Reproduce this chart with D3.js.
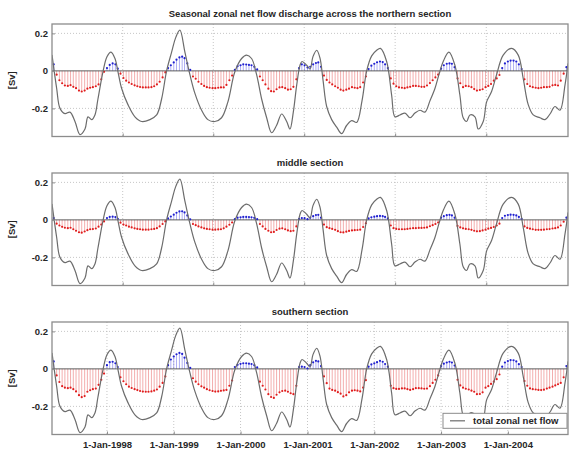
<!DOCTYPE html>
<html>
<head>
<meta charset="utf-8">
<script src="https://cdn.jsdelivr.net/npm/d3@7"></script>
<style>
  html, body { margin: 0; padding: 0; background: #fff; }
  svg { display: block; }
  text { font-family: "Liberation Sans", Arial, Helvetica, sans-serif; }
</style>
</head>
<body>
<svg id="chart" width="570" height="452"></svg>
<script>
// Total zonal net flow (Sv), sampled at decimal-year positions
const lineYears = [
  1997.177, 1997.247, 1997.297, 1997.372, 1997.446, 1997.521, 1997.596, 1997.671, 1997.716, 1997.771,
  1997.820, 1997.865, 1997.940, 1998.000, 1998.060, 1998.120, 1998.165, 1998.220, 1998.314, 1998.419,
  1998.519, 1998.643, 1998.744, 1998.818, 1998.893, 1998.968, 1999.032, 1999.092, 1999.167, 1999.242,
  1999.317, 1999.417, 1999.511, 1999.616, 1999.716, 1999.811, 1999.915, 2000.016, 2000.090, 2000.165,
  2000.240, 2000.315, 2000.390, 2000.464, 2000.539, 2000.614, 2000.689, 2000.738, 2000.788, 2000.839,
  2000.888, 2000.918, 2000.988, 2001.038, 2001.082, 2001.138, 2001.187, 2001.232, 2001.287, 2001.362,
  2001.437, 2001.512, 2001.587, 2001.662, 2001.736, 2001.816, 2001.886, 2001.961, 2002.036, 2002.092,
  2002.185, 2002.260, 2002.309, 2002.384, 2002.459, 2002.534, 2002.609, 2002.684, 2002.758, 2002.833,
  2002.908, 2002.968, 2003.032, 2003.117, 2003.207, 2003.282, 2003.331, 2003.382, 2003.432, 2003.507,
  2003.556, 2003.631, 2003.682, 2003.756, 2003.831, 2003.930, 2004.056, 2004.155, 2004.229, 2004.304,
  2004.379, 2004.479, 2004.554, 2004.629, 2004.703, 2004.778, 2004.853, 2004.898
];
const lineFlow = [
  0.085, -0.094, -0.20, -0.228, -0.22, -0.27, -0.34, -0.31, -0.245, -0.26,
  -0.235, -0.15, -0.005, 0.075, 0.10, 0.066, -0.005, -0.094, -0.18, -0.245,
  -0.27, -0.26, -0.235, -0.15, 0.0, 0.10, 0.18, 0.217, 0.10, -0.02,
  -0.12, -0.21, -0.26, -0.27, -0.25, -0.165, -0.005, 0.066, 0.084, 0.066,
  -0.02, -0.15, -0.25, -0.33, -0.29, -0.23, -0.27, -0.31, -0.22, -0.075,
  0.03, 0.05, 0.03, 0.01, 0.076, 0.11, 0.068, -0.048, -0.19, -0.26,
  -0.30, -0.335, -0.29, -0.265, -0.275, -0.16, 0.0, 0.08, 0.11, 0.12,
  0.05, -0.13, -0.245, -0.235, -0.225, -0.25, -0.225, -0.21, -0.22, -0.16,
  -0.094, -0.02, 0.05, 0.10, 0.03, -0.13, -0.25, -0.27, -0.235, -0.245,
  -0.31, -0.27, -0.165, -0.11, -0.02, 0.084, 0.12, 0.084, -0.04, -0.18,
  -0.235, -0.25, -0.26, -0.23, -0.19, -0.21, -0.076, 0.04
];

// Seasonal discharge per section, half-monthly samples (1st and 16th) from 16 Mar 1997
const stemStart = "1997-03-16";
const stemNorth = [
  0.035, -0.02, -0.05, -0.066, -0.078, -0.08, -0.076, -0.085, -0.092, -0.105,
  -0.11, -0.105, -0.095, -0.09, -0.087, -0.082, -0.072, -0.045, -0.005, 0.015,
  0.032, 0.04, 0.035, 0.012, -0.015, -0.038, -0.052, -0.062, -0.07, -0.077,
  -0.082, -0.086, -0.088, -0.088, -0.088, -0.087, -0.082, -0.072, -0.058, -0.035,
  -0.008, 0.015, 0.03, 0.045, 0.06, 0.072, 0.076, 0.068, 0.04, 0.005,
  -0.03, -0.042, -0.058, -0.07, -0.08, -0.087, -0.09, -0.092, -0.092, -0.09,
  -0.088, -0.088, -0.075, -0.05, -0.025, 0.005, 0.025, 0.03, 0.035, 0.034,
  0.032, 0.03, 0.022, 0.008, -0.03, -0.05, -0.072, -0.095, -0.108, -0.11,
  -0.098, -0.088, -0.087, -0.092, -0.1, -0.098, -0.085, -0.045, 0.015, 0.035,
  0.03, 0.018, 0.022, 0.035, 0.042, 0.045, 0.022, -0.025, -0.048, -0.062,
  -0.072, -0.082, -0.09, -0.1, -0.105, -0.1, -0.095, -0.087, -0.09, -0.092,
  -0.087, -0.062, -0.03, 0.01, 0.028, 0.038, 0.046, 0.05, 0.047, 0.035,
  0.015, -0.04, -0.068, -0.082, -0.088, -0.09, -0.092, -0.088, -0.085, -0.08,
  -0.08, -0.082, -0.085, -0.085, -0.078, -0.065, -0.05, -0.035, -0.02, 0.012,
  0.03, 0.038, 0.04, 0.038, 0.02, -0.04, -0.066, -0.087, -0.08, -0.082,
  -0.087, -0.097, -0.105, -0.102, -0.098, -0.087, -0.08, -0.07, -0.052, -0.04,
  -0.022, 0.015, 0.04, 0.05, 0.055, 0.055, 0.05, 0.035, 0.01, -0.045,
  -0.07, -0.082, -0.087, -0.09, -0.092, -0.09, -0.087, -0.087, -0.085, -0.077,
  -0.075, -0.078, -0.052, -0.015, 0.02
];
const stemMiddle = [
  0.01, -0.02, -0.03, -0.037, -0.042, -0.044, -0.042, -0.05, -0.058, -0.066,
  -0.068, -0.062, -0.055, -0.05, -0.049, -0.046, -0.036, -0.025, -0.008, 0.01,
  0.016, 0.017, 0.015, 0.006, -0.015, -0.025, -0.03, -0.036, -0.04, -0.045,
  -0.048, -0.05, -0.052, -0.052, -0.052, -0.05, -0.048, -0.044, -0.035, -0.022,
  -0.008, 0.008, 0.018, 0.028, 0.038, 0.045, 0.046, 0.04, 0.024, 0.003,
  -0.022, -0.028, -0.035, -0.04, -0.045, -0.048, -0.05, -0.052, -0.052, -0.051,
  -0.05, -0.045, -0.036, -0.026, -0.014, 0.004, 0.012, 0.014, 0.016, 0.016,
  0.015, 0.014, 0.011, 0.004, -0.022, -0.035, -0.048, -0.058, -0.066, -0.064,
  -0.054, -0.047, -0.045, -0.05, -0.056, -0.06, -0.058, -0.035, 0.006, 0.01,
  0.009, 0.004, 0.012, 0.02, 0.026, 0.027, 0.012, -0.025, -0.039, -0.044,
  -0.048, -0.053, -0.06, -0.066, -0.067, -0.063, -0.059, -0.056, -0.055, -0.054,
  -0.052, -0.038, -0.018, 0.008, 0.014, 0.017, 0.02, 0.021, 0.02, 0.016,
  0.008, -0.03, -0.044, -0.048, -0.05, -0.05, -0.05, -0.048, -0.046, -0.044,
  -0.044, -0.043, -0.043, -0.042, -0.04, -0.034, -0.028, -0.022, -0.014, 0.012,
  0.02, 0.025, 0.027, 0.024, 0.012, -0.032, -0.04, -0.045, -0.048, -0.05,
  -0.053, -0.058, -0.061, -0.06, -0.056, -0.052, -0.047, -0.043, -0.038, -0.03,
  -0.02, 0.01, 0.022, 0.026, 0.028, 0.027, 0.024, 0.016, 0.005, -0.035,
  -0.043, -0.047, -0.05, -0.053, -0.053, -0.053, -0.052, -0.05, -0.049, -0.046,
  -0.044, -0.04, -0.03, -0.01, 0.012
];
const stemSouth = [
  0.04, -0.035, -0.07, -0.092, -0.1, -0.103, -0.1, -0.108, -0.12, -0.14,
  -0.151, -0.145, -0.122, -0.114, -0.108, -0.105, -0.085, -0.058, -0.025, 0.02,
  0.036, 0.038, 0.03, 0.01, -0.045, -0.066, -0.082, -0.095, -0.102, -0.108,
  -0.113, -0.118, -0.121, -0.122, -0.122, -0.12, -0.116, -0.11, -0.095, -0.075,
  -0.04, 0.02, 0.05, 0.066, 0.078, 0.085, 0.08, 0.06, 0.032, 0.005,
  -0.05, -0.068, -0.082, -0.093, -0.1, -0.108, -0.114, -0.118, -0.121, -0.12,
  -0.117, -0.115, -0.112, -0.09, -0.062, 0.01, 0.022, 0.027, 0.03, 0.03,
  0.028, 0.026, 0.02, 0.008, -0.068, -0.09, -0.11, -0.135, -0.15, -0.155,
  -0.138, -0.125, -0.118, -0.116, -0.122, -0.13, -0.135, -0.09, 0.01, 0.012,
  0.01, 0.002, 0.02, 0.035, 0.043, 0.04, 0.015, -0.04, -0.076, -0.105,
  -0.112, -0.116, -0.124, -0.132, -0.147, -0.14, -0.125, -0.116, -0.114, -0.116,
  -0.12, -0.1, -0.06, 0.012, 0.024, 0.03, 0.036, 0.043, 0.038, 0.026,
  0.012, -0.09, -0.103, -0.107, -0.107, -0.104, -0.104, -0.108, -0.112, -0.108,
  -0.103, -0.103, -0.104, -0.106, -0.105, -0.092, -0.075, -0.058, -0.035, 0.015,
  0.028, 0.034, 0.038, 0.034, 0.018, -0.058, -0.088, -0.1, -0.106, -0.11,
  -0.116, -0.122, -0.135, -0.134, -0.125, -0.1, -0.092, -0.08, -0.068, -0.055,
  -0.03, 0.012, 0.034, 0.042, 0.047, 0.046, 0.04, 0.025, 0.01, -0.065,
  -0.09, -0.104, -0.108, -0.11, -0.112, -0.113, -0.111, -0.105, -0.1, -0.095,
  -0.088, -0.082, -0.075, -0.045, 0.015
];

const panelTitles = [
  "Seasonal zonal net flow discharge across the northern section",
  "middle section",
  "southern section"
];
const yTicks = [0.2, 0, -0.2];
const yLabel = "[Sv]";
const yearTicks = ["1998-01-01", "1999-01-01", "2000-01-01", "2001-01-01", "2002-01-01", "2003-01-01", "2004-01-01"];
// unlabelled date grid used by the upper two sections
const gridDatesUpper = ["1998-03-28", "1999-08-05", "2000-12-14", "2002-04-25", "2003-09-05"];
const legendLabel = "total zonal net flow";
const timeRange = [1997.177, 2004.898];
const flowRange = [-0.35, 0.25];

// ---------------------------------------------------------------------------
const decYear = v => {
  const yr = Math.floor(v);
  const a = Date.UTC(yr, 0, 1), b = Date.UTC(yr + 1, 0, 1);
  return new Date(a + (v - yr) * (b - a));
};
const parse = d3.utcParse("%Y-%m-%d");

function halfMonthDates(start, n) {
  const out = [];
  let d = parse(start);
  while (out.length < n) {
    out.push(d);
    d = d.getUTCDate() === 1
      ? new Date(Date.UTC(d.getUTCFullYear(), d.getUTCMonth(), 16))
      : new Date(Date.UTC(d.getUTCFullYear(), d.getUTCMonth() + 1, 1));
  }
  return out;
}

const svg = d3.select("#chart");
const left = 52, right = 568, panelH = 112.5;
const panelTops = [24, 173, 322];

const x = d3.scaleTime().domain(timeRange.map(decYear)).range([left, right]);
const y = d3.scaleLinear().domain(flowRange).range([panelH, 0]);

const lineData = lineYears.map((t, i) => ({ date: decYear(t), v: lineFlow[i] }));
const series = [stemNorth, stemMiddle, stemSouth];

const fontSize = 9.5;
const textColor = "#262626";
const frameColor = "#8c8c8c";
const flowColor = "#6c6c6c";

svg.append("defs").append("clipPath").attr("id", "plotClip")
  .append("rect").attr("x", left).attr("y", 0).attr("width", right - left).attr("height", panelH);

const flowLine = d3.line()
  .x(d => x(d.date))
  .y(d => y(d.v))
  .curve(d3.curveCatmullRom.alpha(0.5));

series.forEach((vals, p) => {
  const g = svg.append("g").attr("transform", `translate(0,${panelTops[p]})`);
  const stemDates = halfMonthDates(stemStart, vals.length);
  const stems = vals.map((v, i) => ({ date: stemDates[i], v }));

  // title
  g.append("text")
    .attr("x", (left + right) / 2)
    .attr("y", -7)
    .attr("text-anchor", "middle")
    .attr("font-size", fontSize)
    .attr("font-weight", "bold")
    .attr("fill", textColor)
    .text(panelTitles[p]);

  // dotted grid
  const gridDates = (p < 2 ? gridDatesUpper : yearTicks).map(parse);
  const grid = g.append("g").attr("stroke", "#b8b8b8").attr("stroke-width", 0.8)
    .attr("stroke-dasharray", "1,2");
  grid.selectAll("line.vx").data(gridDates).join("line")
    .attr("x1", d => x(d)).attr("x2", d => x(d))
    .attr("y1", 0).attr("y2", panelH);
  grid.selectAll("line.hy").data(yTicks.filter(d => d !== 0)).join("line")
    .attr("x1", left).attr("x2", right)
    .attr("y1", d => y(d)).attr("y2", d => y(d));

  const plot = g.append("g").attr("clip-path", "url(#plotClip)");

  // stems
  plot.append("g").selectAll("line").data(stems).join("line")
    .attr("x1", d => x(d.date)).attr("x2", d => x(d.date))
    .attr("y1", y(0)).attr("y2", d => y(d.v))
    .attr("stroke", d => d.v >= 0 ? "#5a5ae6" : "#e65a5a")
    .attr("stroke-opacity", 0.7)
    .attr("stroke-width", 0.7);

  // baseline
  plot.append("line")
    .attr("x1", left).attr("x2", right)
    .attr("y1", y(0)).attr("y2", y(0))
    .attr("stroke", "#4a4a4a").attr("stroke-width", 0.9);

  // stem heads
  plot.append("g").selectAll("circle").data(stems).join("circle")
    .attr("cx", d => x(d.date)).attr("cy", d => y(d.v))
    .attr("r", 1.1)
    .attr("fill", d => d.v >= 0 ? "#2020d0" : "#e01e1e");

  // total flow
  plot.append("path").datum(lineData)
    .attr("d", flowLine)
    .attr("fill", "none")
    .attr("stroke", flowColor)
    .attr("stroke-width", 1.2);

  // y axis
  const yAxis = g.append("g").attr("transform", `translate(${left},0)`)
    .call(d3.axisLeft(y).tickValues(yTicks)
      .tickFormat(d => d === 0 ? "0" : d.toFixed(1))
      .tickSizeInner(-3).tickSizeOuter(0).tickPadding(4));
  yAxis.select(".domain").remove();
  yAxis.selectAll(".tick line").attr("stroke", frameColor);
  yAxis.selectAll("text")
    .attr("font-size", fontSize).attr("font-weight", "bold")
    .attr("fill", textColor)
    .style("font-family", '"Liberation Sans", Arial, sans-serif');

  // y label
  g.append("text")
    .attr("transform", `translate(15,${panelH / 2}) rotate(-90)`)
    .attr("text-anchor", "middle")
    .attr("font-size", fontSize)
    .attr("font-weight", "bold")
    .attr("fill", textColor)
    .text(yLabel);

  // x axis ticks (labels only on the last section)
  const xAxis = g.append("g").attr("transform", `translate(0,${panelH})`)
    .call(d3.axisBottom(x).tickValues(gridDates)
      .tickFormat(p === 2 ? d3.utcFormat("%-d-%b-%Y") : () => "")
      .tickSizeInner(-3).tickSizeOuter(0).tickPadding(6.5));
  xAxis.select(".domain").remove();
  xAxis.selectAll(".tick line").attr("stroke", frameColor);
  xAxis.selectAll("text")
    .attr("font-size", fontSize).attr("font-weight", "bold")
    .attr("fill", textColor)
    .style("font-family", '"Liberation Sans", Arial, sans-serif');

  // frame
  g.append("rect")
    .attr("x", left).attr("y", 0)
    .attr("width", right - left).attr("height", panelH)
    .attr("fill", "none")
    .attr("stroke", frameColor)
    .attr("stroke-width", 1.3);

  // legend
  if (p === 2) {
    const lg = g.append("g").attr("transform", `translate(443,${y(-0.237)})`);
    lg.append("rect").attr("width", 124).attr("height", 15)
      .attr("fill", "#fff").attr("stroke", frameColor).attr("stroke-width", 1);
    lg.append("line").attr("x1", 7).attr("x2", 22).attr("y1", 7.5).attr("y2", 7.5)
      .attr("stroke", flowColor).attr("stroke-width", 1.2);
    lg.append("text").attr("x", 30).attr("y", 11)
      .attr("font-size", fontSize).attr("font-weight", "bold")
      .attr("fill", textColor)
      .text(legendLabel);
  }
});
</script>
</body>
</html>
